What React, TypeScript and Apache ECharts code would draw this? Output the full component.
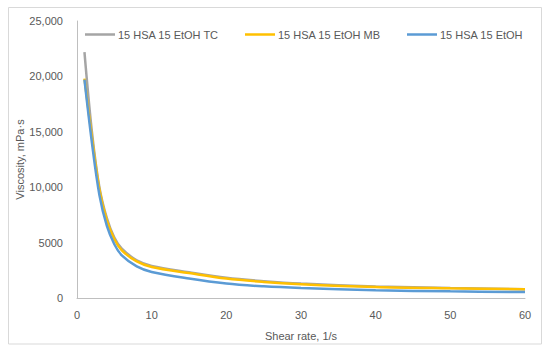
import React, { useEffect, useRef } from "react";
import * as echarts from "echarts";

const shearRates = [1, 2, 3, 4, 5, 6, 8, 10, 15, 20, 25, 30, 40, 50, 60];
const viscTC = [22200, 15000, 10000, 7200, 5450, 4450, 3400, 2900, 2330, 1830, 1520, 1300, 1040, 900, 790];
const viscMB = [19800, 14500, 9800, 7000, 5300, 4300, 3300, 2800, 2250, 1750, 1450, 1250, 1000, 880, 790];
const viscEtOH = [19700, 14000, 9300, 6500, 4850, 3850, 2850, 2350, 1750, 1300, 1050, 900, 700, 600, 540];
const seriesNames = ["15 HSA 15 EtOH TC", "15 HSA 15 EtOH MB", "15 HSA 15 EtOH"];
const seriesColors = ["#A5A5A5", "#FFC000", "#5B9BD5"];
const yTicks = [0, 5000, 10000, 15000, 20000, 25000];
const yTickLabels = ["0", "5000", "10,000", "15,000", "20,000", "25,000"];
const xTicks = [0, 10, 20, 30, 40, 50, 60];

const FONT = "Liberation Sans";
const TXT = "#595959";

export default function App() {
  const ref = useRef<HTMLDivElement>(null);
  useEffect(() => {
    if (!ref.current) return;
    const chart = echarts.init(ref.current, undefined, { renderer: "svg" });
    const allVals = [viscTC, viscMB, viscEtOH];
    const legendLefts = [85, 245, 407];
    chart.setOption({
      animation: false,
      backgroundColor: "#ffffff",
      textStyle: { fontFamily: FONT },
      graphic: [
        {
          type: "rect",
          shape: { x: 8.5, y: 7.5, width: 533, height: 336.5 },
          style: { fill: "none", stroke: "#D9D9D9", lineWidth: 1 },
          silent: true,
        },
      ],
      legend: seriesNames.map((n, i) => ({
        data: [n],
        left: legendLefts[i],
        top: 29,
        icon: "rect",
        itemWidth: 30,
        itemHeight: 2.5,
        itemGap: 0,
        padding: 0,
        textStyle: { color: TXT, fontSize: 11, fontFamily: FONT, padding: [0, 0, 0, -2] },
      })),
      grid: { left: 77, right: 25, top: 21, bottom: 56 },
      xAxis: {
        type: "value",
        min: xTicks[0],
        max: xTicks[xTicks.length - 1],
        interval: xTicks[1] - xTicks[0],
        name: "Shear rate, 1/s",
        nameLocation: "middle",
        nameGap: 32,
        nameMoveOverlap: false,
        nameTextStyle: { color: TXT, fontSize: 11, fontFamily: FONT },
        axisLine: { show: true, lineStyle: { color: "#BFBFBF", width: 1 } },
        axisTick: { show: false },
        splitLine: { show: false },
        axisLabel: { color: TXT, fontSize: 11, fontFamily: FONT, margin: 11 },
      },
      yAxis: {
        type: "value",
        min: yTicks[0],
        max: yTicks[yTicks.length - 1],
        interval: yTicks[1] - yTicks[0],
        name: "Viscosity, mPa·s",
        nameLocation: "middle",
        nameGap: 52,
        nameMoveOverlap: false,
        nameTextStyle: { color: TXT, fontSize: 11, fontFamily: FONT },
        axisLine: { show: true, lineStyle: { color: "#BFBFBF", width: 1 } },
        axisTick: { show: false },
        splitLine: { show: false },
        axisLabel: {
          color: TXT,
          fontSize: 11,
          fontFamily: FONT,
          margin: 14,
          formatter: (v: number) => {
            const i = yTicks.indexOf(v);
            return i >= 0 ? yTickLabels[i] : String(v);
          },
        },
      },
      series: seriesNames.map((n, i) => ({
        name: n,
        type: "line",
        smooth: 0.35,
        showSymbol: false,
        symbol: "none",
        color: seriesColors[i],
        lineStyle: { color: seriesColors[i], width: 2.5 },
        data: shearRates.map((x, j) => [x, allVals[i][j]]),
        z: 2 + i,
      })),
    });
    return () => chart.dispose();
  }, []);
  return (
    <div
      ref={ref}
      style={{ position: "absolute", left: 0, top: 0, width: 550, height: 354 }}
    />
  );
}
